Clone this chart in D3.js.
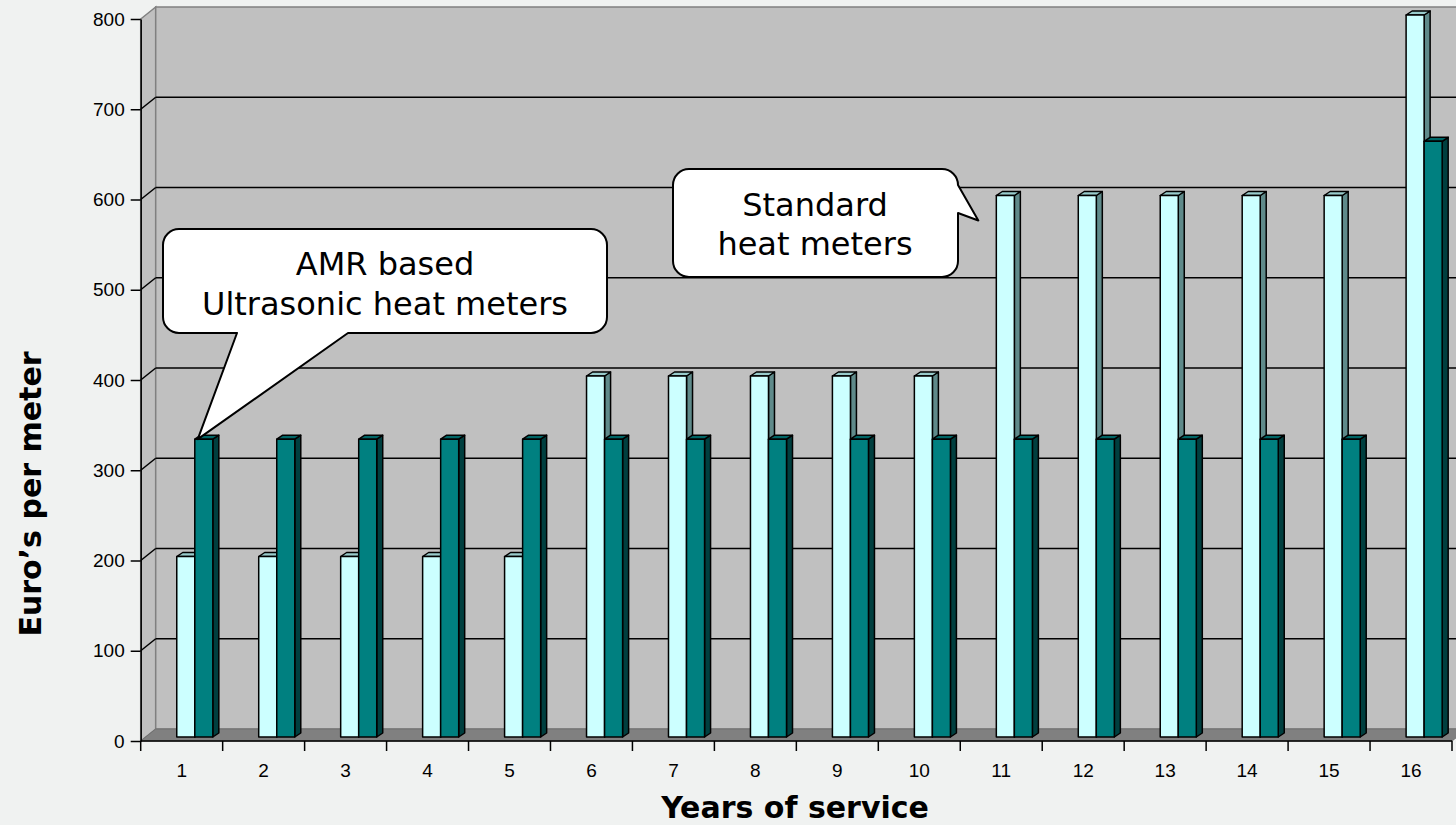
<!DOCTYPE html>
<html><head><meta charset="utf-8">
<script src="https://cdn.jsdelivr.net/npm/d3@7"></script>
<style>html,body{margin:0;padding:0;background:#F0F2F1;overflow:hidden}</style>
</head><body><svg id="c" width="1456" height="825"></svg>
<script>
const categories = ["1","2","3","4","5","6","7","8","9","10","11","12","13","14","15","16"];
const standardMeters = [200,200,200,200,200,400,400,400,400,400,600,600,600,600,600,800];
const amrMeters = [330,330,330,330,330,330,330,330,330,330,330,330,330,330,330,660];
const yTicks = [0,100,200,300,400,500,600,700,800];
const xTitle = "Years of service";
const yTitle = "Euro\u2019s per meter";
const calloutAmr = ["AMR based","Ultrasonic heat meters"];
const calloutStd = ["Standard","heat meters"];

const svg = d3.select("#c");
const x = d3.scaleBand().domain(categories).range([140.7, 1452]).padding(0);
const y = d3.scaleLinear().domain([0, 800]).range([741, 19]);
const wdx = 15, wdy = -12;      // wall depth
const bdx = 6, bdy = -4;        // bar depth
const bw = x.bandwidth();
const x0 = x.range()[0], x1 = x.range()[1];
const yMax = y.domain()[1];

// left wall
svg.append("path")
  .attr("d", `M${x0},${y(0)} L${x0},${y(yMax)} L${x0+wdx},${y(yMax)+wdy} L${x0+wdx},${y(0)+wdy} Z`)
  .attr("fill", "#C0C0C0").attr("stroke", "#808080").attr("stroke-width", 1.5);
// back wall
svg.append("rect")
  .attr("x", x0+wdx).attr("y", y(yMax)+wdy).attr("width", x1 - x0).attr("height", y(0) - y(yMax))
  .attr("fill", "#C0C0C0").attr("stroke", "#808080").attr("stroke-width", 1.5);
// floor
svg.append("path")
  .attr("d", `M${x0},${y(0)} L${x1},${y(0)} L${x1+wdx},${y(0)+wdy} L${x0+wdx},${y(0)+wdy} Z`)
  .attr("fill", "#808080").attr("stroke", "#707070").attr("stroke-width", 1);

// gridlines
const grid = yTicks.filter(v => v > 0 && v < yMax);
svg.append("g").selectAll("line").data(grid).join("line")
  .attr("x1", x0+wdx).attr("x2", x1+wdx)
  .attr("y1", d => y(d)+wdy).attr("y2", d => y(d)+wdy)
  .attr("stroke", "#000").attr("stroke-width", 1.5);
svg.append("g").selectAll("line").data(grid).join("line")
  .attr("x1", x0).attr("x2", x0+wdx)
  .attr("y1", d => y(d)).attr("y2", d => y(d)+wdy)
  .attr("stroke", "#000").attr("stroke-width", 1.5);

// y axis
const yAxis = d3.axisLeft(y).tickValues(yTicks).tickSize(10).tickPadding(6).tickSizeOuter(0);
const gy = svg.append("g").attr("transform", `translate(${x0},0)`).call(yAxis);
gy.select(".domain").attr("stroke", "#000").attr("stroke-width", 1.5);
gy.selectAll(".tick line").attr("stroke", "#000").attr("stroke-width", 1.5);
gy.selectAll(".tick text").attr("font-family", "Liberation Sans, Arial, sans-serif").attr("font-size", 19).attr("fill", "#000");

// x axis
svg.append("line").attr("x1", x0).attr("x2", x1).attr("y1", y(0)).attr("y2", y(0))
  .attr("stroke", "#000").attr("stroke-width", 1.5);
const bounds = categories.map(c => x(c)).concat([x1]);
svg.append("g").selectAll("line").data(bounds).join("line")
  .attr("x1", d => d).attr("x2", d => d).attr("y1", y(0)).attr("y2", y(0) + 10)
  .attr("stroke", "#000").attr("stroke-width", 1.5);
svg.append("g").selectAll("text").data(categories).join("text")
  .attr("x", d => x(d) + bw / 2).attr("y", 777)
  .attr("text-anchor", "middle")
  .attr("font-family", "Liberation Sans, Arial, sans-serif").attr("font-size", 19).attr("fill", "#000")
  .text(d => d);

// bars
const barW = bw * 0.22;
const barOff = bw * 0.44;
function bar3d(g, bx, val, cFront, cTop, cSide) {
  const yb = y(0) - 4, yt = y(val) - 4;
  g.append("path").attr("d", `M${bx+barW},${yb} L${bx+barW+bdx},${yb+bdy} L${bx+barW+bdx},${yt+bdy} L${bx+barW},${yt} Z`)
    .attr("fill", cSide);
  g.append("path").attr("d", `M${bx},${yt} L${bx+bdx},${yt+bdy} L${bx+barW+bdx},${yt+bdy} L${bx+barW},${yt} Z`)
    .attr("fill", cTop);
  g.append("rect").attr("x", bx).attr("y", yt).attr("width", barW).attr("height", yb - yt)
    .attr("fill", cFront);
  g.selectAll("path,rect").attr("stroke", "#000").attr("stroke-width", 1.5).attr("stroke-linejoin", "round");
}
const gb = svg.append("g");
categories.forEach((c, i) => {
  const bx = x(c) + barOff;
  bar3d(gb.append("g"), bx, standardMeters[i], "#CCFFFF", "#99CCCC", "#5F8A8A");
  bar3d(gb.append("g"), bx + barW, amrMeters[i], "#008080", "#006666", "#003F3F");
});

// callouts
function callout(rx0, ry0, rx1, ry1, r, pointerSegs, side) {
  let d = `M${rx0+r},${ry0} H${rx1-r} A${r},${r} 0 0 1 ${rx1},${ry0+r}`;
  if (side === "right") d += pointerSegs;
  d += ` V${ry1-r} A${r},${r} 0 0 1 ${rx1-r},${ry1}`;
  if (side === "bottom") d += pointerSegs;
  d += ` H${rx0+r} A${r},${r} 0 0 1 ${rx0},${ry1-r} V${ry0+r} A${r},${r} 0 0 1 ${rx0+r},${ry0} Z`;
  return d;
}
// AMR callout: pointer to first AMR bar top
const amrTipX = x(categories[0]) + barOff + barW + 3, amrTipY = y(amrMeters[0]) - 4;
svg.append("path")
  .attr("d", callout(163, 229, 607, 333, 16, ` H348 L${amrTipX},${amrTipY} L237,333`, "bottom"))
  .attr("fill", "#fff").attr("stroke", "#000").attr("stroke-width", 2).attr("stroke-linejoin", "round");
const stdTipX = x(categories[10]) + barOff - 18, stdTipY = y(standardMeters[10]) + 21;
svg.append("path")
  .attr("d", callout(673, 169, 958, 277, 16, ` L${stdTipX},${stdTipY} L958,213`, "right"))
  .attr("fill", "#fff").attr("stroke", "#000").attr("stroke-width", 2).attr("stroke-linejoin", "round");

const cf = "DejaVu Sans, Verdana, sans-serif";
svg.append("g").selectAll("text").data(calloutAmr).join("text")
  .attr("x", 385).attr("y", (d, i) => 275 + i * 39.5).attr("text-anchor", "middle")
  .attr("font-family", cf).attr("font-size", 32).attr("fill", "#000").text(d => d);
svg.append("g").selectAll("text").data(calloutStd).join("text")
  .attr("x", 815).attr("y", (d, i) => 216 + i * 38.5).attr("text-anchor", "middle")
  .attr("font-family", cf).attr("font-size", 32).attr("fill", "#000").text(d => d);

// titles
svg.append("text").attr("x", 795).attr("y", 818).attr("text-anchor", "middle")
  .attr("font-family", "DejaVu Sans, Verdana, sans-serif").attr("font-weight", "bold").attr("font-size", 30)
  .attr("fill", "#000").text(xTitle);
svg.append("text").attr("transform", "translate(41,494) rotate(-90)").attr("text-anchor", "middle")
  .attr("font-family", "DejaVu Sans, Verdana, sans-serif").attr("font-weight", "bold").attr("font-size", 30)
  .attr("fill", "#000").text(yTitle);
</script></body></html>
